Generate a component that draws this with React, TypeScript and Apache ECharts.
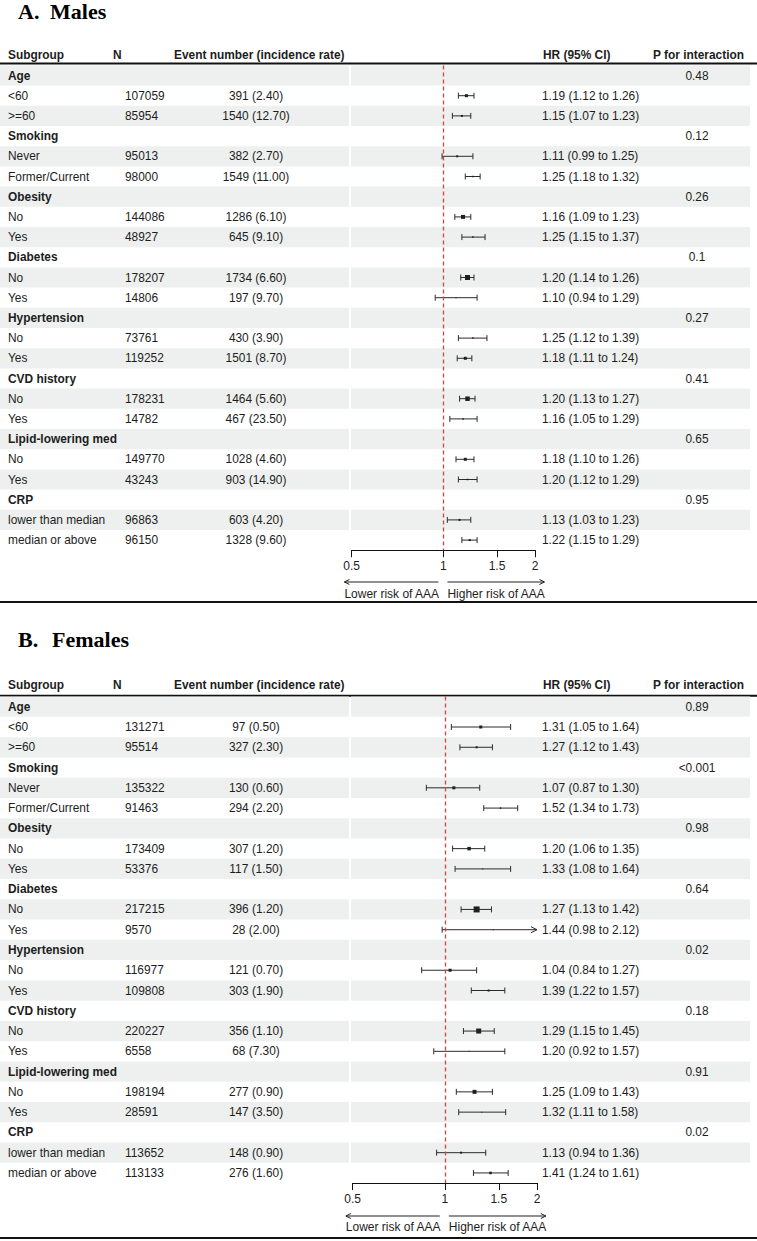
import React, { useEffect, useRef } from "react";
import * as echarts from "echarts";

// ---- Subgroup structure ----
const groupNames = ["Age", "Smoking", "Obesity", "Diabetes", "Hypertension", "CVD history", "Lipid-lowering med", "CRP"];
const levelNames = [
  ["<60", ">=60"],
  ["Never", "Former/Current"],
  ["No", "Yes"],
  ["No", "Yes"],
  ["No", "Yes"],
  ["No", "Yes"],
  ["No", "Yes"],
  ["lower than median", "median or above"],
];

// ---- Males ----
const maleN = [107059, 85954, 95013, 98000, 144086, 48927, 178207, 14806, 73761, 119252, 178231, 14782, 149770, 43243, 96863, 96150];
const maleEvents = [391, 1540, 382, 1549, 1286, 645, 1734, 197, 430, 1501, 1464, 467, 1028, 903, 603, 1328];
const maleRate = [2.4, 12.7, 2.7, 11.0, 6.1, 9.1, 6.6, 9.7, 3.9, 8.7, 5.6, 23.5, 4.6, 14.9, 4.2, 9.6];
const maleHR = [1.19, 1.15, 1.11, 1.25, 1.16, 1.25, 1.2, 1.1, 1.25, 1.18, 1.2, 1.16, 1.18, 1.2, 1.13, 1.22];
const maleLo = [1.12, 1.07, 0.99, 1.18, 1.09, 1.15, 1.14, 0.94, 1.12, 1.11, 1.13, 1.05, 1.1, 1.12, 1.03, 1.15];
const maleHi = [1.26, 1.23, 1.25, 1.32, 1.23, 1.37, 1.26, 1.29, 1.39, 1.24, 1.27, 1.29, 1.26, 1.29, 1.23, 1.29];
const maleP = ["0.48", "0.12", "0.26", "0.1", "0.27", "0.41", "0.65", "0.95"];
const maleWeight = [3, 2, 2, 1.5, 4, 1.5, 5, 1, 1.5, 3, 4.5, 1.5, 3, 1.5, 2, 2];

// ---- Females ----
const femaleN = [131271, 95514, 135322, 91463, 173409, 53376, 217215, 9570, 116977, 109808, 220227, 6558, 198194, 28591, 113652, 113133];
const femaleEvents = [97, 327, 130, 294, 307, 117, 396, 28, 121, 303, 356, 68, 277, 147, 148, 276];
const femaleRate = [0.5, 2.3, 0.6, 2.2, 1.2, 1.5, 1.2, 2.0, 0.7, 1.9, 1.1, 7.3, 0.9, 3.5, 0.9, 1.6];
const femaleHR = [1.31, 1.27, 1.07, 1.52, 1.2, 1.33, 1.27, 1.44, 1.04, 1.39, 1.29, 1.2, 1.25, 1.32, 1.13, 1.41];
const femaleLo = [1.05, 1.12, 0.87, 1.34, 1.06, 1.08, 1.13, 0.98, 0.84, 1.22, 1.15, 0.92, 1.09, 1.11, 0.94, 1.24];
const femaleHi = [1.64, 1.43, 1.3, 1.73, 1.35, 1.64, 1.42, 2.12, 1.27, 1.57, 1.45, 1.57, 1.43, 1.58, 1.36, 1.61];
const femaleP = ["0.89", "<0.001", "0.98", "0.64", "0.02", "0.18", "0.91", "0.02"];
const femaleWeight = [3, 2, 3, 1.5, 3.5, 1, 6, 1, 3, 2, 5, 1, 4, 1, 2, 2.5];

// ---- Axis ticks (hazard ratio, log scale) ----
const hrTicks = [0.5, 1, 1.5, 2];
const headerLabels = ["Subgroup", "N", "Event number (incidence rate)", "HR (95% CI)", "P for interaction"];

const W = 757;
const H = 1241;
const SANS = '"Liberation Sans", Arial, sans-serif';
const SERIF = '"Liberation Serif", "Times New Roman", serif';
const INK = "#1d1d1d";
const BAND = "#edf0ee";
const REF_RED = "#d8453c";
const FS = 11.9;
const COL = { label: 8, n: 125, events: 256, hr: 542, p: 697 };

type PanelData = {
  letter: string;
  name: string;
  n: number[];
  events: number[];
  rate: number[];
  hr: number[];
  lo: number[];
  hi: number[];
  p: string[];
  weight: number[];
};

type Layout = {
  titleY: number;
  nameX: number;
  headerY: number;
  headerLineY: number;
  top: number;
  pitch: number;
  left: number;
  width: number;
  arrowY: number;
  arrowTextY: number;
  bottomLineY: number;
};

const panels: PanelData[] = [
  { letter: "A.", name: "Males", n: maleN, events: maleEvents, rate: maleRate, hr: maleHR, lo: maleLo, hi: maleHi, p: maleP, weight: maleWeight },
  { letter: "B.", name: "Females", n: femaleN, events: femaleEvents, rate: femaleRate, hr: femaleHR, lo: femaleLo, hi: femaleHi, p: femaleP, weight: femaleWeight },
];

const layouts: Layout[] = [
  { titleY: 11, nameX: 50, headerY: 55, headerLineY: 63.5, top: 65.4, pitch: 20.2, left: 351.7, width: 183.4, arrowY: 582, arrowTextY: 594, bottomLineY: 602 },
  { titleY: 639, nameX: 52, headerY: 685, headerLineY: 695.8, top: 696.6, pitch: 20.27, left: 352.7, width: 184.3, arrowY: 1216, arrowTextY: 1227, bottomLineY: 1238 },
];

const log2 = (v: number) => Math.log(v) / Math.LN2;
const NROWS = 24;

type RowInfo = { kind: "group" | "level"; label: string; k: number; g: number };

function buildRows(): RowInfo[] {
  const rows: RowInfo[] = [];
  groupNames.forEach((gName, g) => {
    rows.push({ kind: "group", label: gName, k: -1, g });
    levelNames[g].forEach((lv, j) => rows.push({ kind: "level", label: lv, k: g * 2 + j, g }));
  });
  return rows;
}

function txt(x: number, y: number, text: string, opts: any = {}) {
  const align = opts.align || "left";
  return {
    type: "text",
    x,
    y,
    silent: true,
    style: {
      text,
      fill: opts.fill || INK,
      fontSize: opts.fontSize || FS,
      fontFamily: opts.fontFamily || SANS,
      fontWeight: opts.bold ? "bold" : "normal",
      textAlign: align,
      align,
      textVerticalAlign: "middle",
      verticalAlign: "middle",
    },
  };
}

function buildOption() {
  const rows = buildRows();
  const grids: any[] = [];
  const xAxes: any[] = [];
  const yAxes: any[] = [];
  const series: any[] = [];
  const graphics: any[] = [];

  panels.forEach((pd, pi) => {
    const L = layouts[pi];
    grids.push({ left: L.left, top: L.top, width: L.width, height: L.pitch * NROWS, containLabel: false });
    xAxes.push({
      type: "value",
      gridIndex: pi,
      min: -1,
      max: 1,
      axisLine: { show: true, onZero: false, lineStyle: { color: "#111", width: 1 } },
      axisTick: { show: true, length: 7, lineStyle: { color: "#111", width: 1 }, customValues: hrTicks.map(log2) },
      axisLabel: {
        show: true,
        margin: 10,
        fontSize: 12,
        fontFamily: SANS,
        color: INK,
        customValues: hrTicks.map(log2),
        formatter: (v: number) => String(Math.round(Math.pow(2, v) * 100) / 100),
      },
      splitLine: { show: false },
    });
    yAxes.push({ type: "value", gridIndex: pi, min: -0.5, max: NROWS - 0.5, inverse: true, show: false });

    // Table rows: banded background and text columns
    series.push({
      type: "custom",
      name: pd.name + " table",
      xAxisIndex: pi,
      yAxisIndex: pi,
      z: 1,
      silent: true,
      clip: false,
      data: rows.map((_, r) => [0, r]),
      encode: { x: 0, y: 1 },
      renderItem: (params: any, api: any) => {
        const r = api.value(1);
        const row = rows[r];
        const y = api.coord([0, r])[1];
        const children: any[] = [];
        if (r % 2 === 0) {
          children.push({ type: "rect", shape: { x: 0, y: y - L.pitch / 2, width: 349, height: L.pitch }, style: { fill: BAND }, silent: true });
          children.push({ type: "rect", shape: { x: 351, y: y - L.pitch / 2, width: 399, height: L.pitch }, style: { fill: BAND }, silent: true });
        }
        if (row.kind === "group") {
          children.push(txt(COL.label, y, row.label, { bold: true }));
          children.push(txt(COL.p, y, pd.p[row.g], { align: "center" }));
        } else {
          const k = row.k;
          children.push(txt(COL.label, y, row.label));
          children.push(txt(COL.n, y, String(pd.n[k])));
          children.push(txt(COL.events, y, `${pd.events[k]} (${pd.rate[k].toFixed(2)})`, { align: "center" }));
          children.push(txt(COL.hr, y, `${pd.hr[k].toFixed(2)} (${pd.lo[k].toFixed(2)} to ${pd.hi[k].toFixed(2)})`));
        }
        return { type: "group", children };
      },
    });

    // Reference line at HR = 1
    series.push({
      type: "custom",
      name: pd.name + " reference",
      xAxisIndex: pi,
      yAxisIndex: pi,
      z: 4,
      silent: true,
      clip: false,
      data: [[0]],
      encode: { x: 0 },
      renderItem: (params: any, api: any) => {
        const x = Math.round(api.coord([api.value(0), -0.5])[0]) + 0.5;
        const yTop = api.coord([0, -0.5])[1];
        const yBot = api.coord([0, NROWS - 0.5])[1];
        return {
          type: "line",
          shape: { x1: x, y1: yTop, x2: x, y2: yBot },
          style: { stroke: REF_RED, lineWidth: 1.3, lineDash: [4, 3] },
        };
      },
    });

    // Forest marks: CI whiskers and weighted squares
    const forestData = pd.hr.map((h, k) => {
      const r = Math.floor(k / 2) * 3 + 1 + (k % 2);
      return [r, log2(h), log2(pd.lo[k]), log2(pd.hi[k]), pd.weight[k]];
    });
    series.push({
      type: "custom",
      name: pd.name + " HR",
      xAxisIndex: pi,
      yAxisIndex: pi,
      z: 3,
      silent: true,
      clip: false,
      data: forestData,
      encode: { x: [1, 2, 3], y: 0 },
      renderItem: (params: any, api: any) => {
        const r = api.value(0);
        const est = api.value(1);
        const lo = api.value(2);
        const hi = api.value(3);
        const w = api.value(4);
        const loC = Math.max(lo, -1);
        const hiC = Math.min(hi, 1);
        const pLo = api.coord([loC, r]);
        const pHi = api.coord([hiC, r]);
        const pE = api.coord([est, r]);
        const y = pE[1];
        const ls = { stroke: "#2b2b2b", lineWidth: 1 };
        const children: any[] = [
          { type: "line", shape: { x1: pLo[0], y1: y, x2: pHi[0], y2: y }, style: ls },
        ];
        if (lo >= -1) {
          children.push({ type: "line", shape: { x1: pLo[0], y1: y - 3, x2: pLo[0], y2: y + 3 }, style: ls });
        } else {
          children.push({ type: "polyline", shape: { points: [[pLo[0] + 6, y - 3], [pLo[0], y], [pLo[0] + 6, y + 3]] }, style: { ...ls, fill: "none" } });
        }
        if (hi <= 1) {
          children.push({ type: "line", shape: { x1: pHi[0], y1: y - 3, x2: pHi[0], y2: y + 3 }, style: ls });
        } else {
          children.push({ type: "polyline", shape: { points: [[pHi[0] - 6, y - 3], [pHi[0], y], [pHi[0] - 6, y + 3]] }, style: { ...ls, fill: "none" } });
        }
        children.push({ type: "rect", shape: { x: pE[0] - w / 2, y: y - w / 2, width: w, height: w }, style: { fill: "#1f1f1f" } });
        return { type: "group", children };
      },
    });

    // Title, header, rules and direction arrows
    graphics.push(txt(18, L.titleY, pd.letter, { fontFamily: SERIF, fontSize: 22, bold: true, fill: "#000" }));
    graphics.push(txt(L.nameX, L.titleY, pd.name, { fontFamily: SERIF, fontSize: 22, bold: true, fill: "#000" }));
    graphics.push(txt(COL.label, L.headerY, headerLabels[0], { bold: true }));
    graphics.push(txt(113, L.headerY, headerLabels[1], { bold: true }));
    graphics.push(txt(174, L.headerY, headerLabels[2], { bold: true }));
    graphics.push(txt(543, L.headerY, headerLabels[3], { bold: true }));
    graphics.push(txt(653, L.headerY, headerLabels[4], { bold: true }));
    graphics.push({ type: "rect", shape: { x: 0, y: L.headerLineY - 1, width: W, height: 2 }, style: { fill: "#111" }, silent: true });
    graphics.push({ type: "rect", shape: { x: 0, y: L.bottomLineY - 1, width: W, height: 2 }, style: { fill: "#111" }, silent: true });

    const xOne = L.left + L.width / 2;
    const aStyle = { stroke: "#222", lineWidth: 1, fill: "none" };
    graphics.push({ type: "line", shape: { x1: xOne - 99, y1: L.arrowY, x2: xOne - 5, y2: L.arrowY }, style: aStyle, silent: true });
    graphics.push({ type: "polyline", shape: { points: [[xOne - 94, L.arrowY - 2.5], [xOne - 99, L.arrowY], [xOne - 94, L.arrowY + 2.5]] }, style: aStyle, silent: true });
    graphics.push({ type: "line", shape: { x1: xOne + 4, y1: L.arrowY, x2: xOne + 101, y2: L.arrowY }, style: aStyle, silent: true });
    graphics.push({ type: "polyline", shape: { points: [[xOne + 96, L.arrowY - 2.5], [xOne + 101, L.arrowY], [xOne + 96, L.arrowY + 2.5]] }, style: aStyle, silent: true });
    graphics.push(txt(xOne - 99, L.arrowTextY, "Lower risk of AAA", { fontSize: 12 }));
    graphics.push(txt(xOne + 4, L.arrowTextY, "Higher risk of AAA", { fontSize: 12 }));
  });

  return {
    animation: false,
    backgroundColor: "#ffffff",
    grid: grids,
    xAxis: xAxes,
    yAxis: yAxes,
    series,
    graphic: { elements: graphics },
  };
}

export default function App() {
  const ref = useRef<HTMLDivElement>(null);
  useEffect(() => {
    if (!ref.current) return;
    const chart = echarts.init(ref.current, undefined, { renderer: "svg" });
    chart.setOption(buildOption() as any);
    return () => chart.dispose();
  }, []);
  return <div ref={ref} style={{ position: "absolute", left: 0, top: 0, width: W, height: H }} />;
}
